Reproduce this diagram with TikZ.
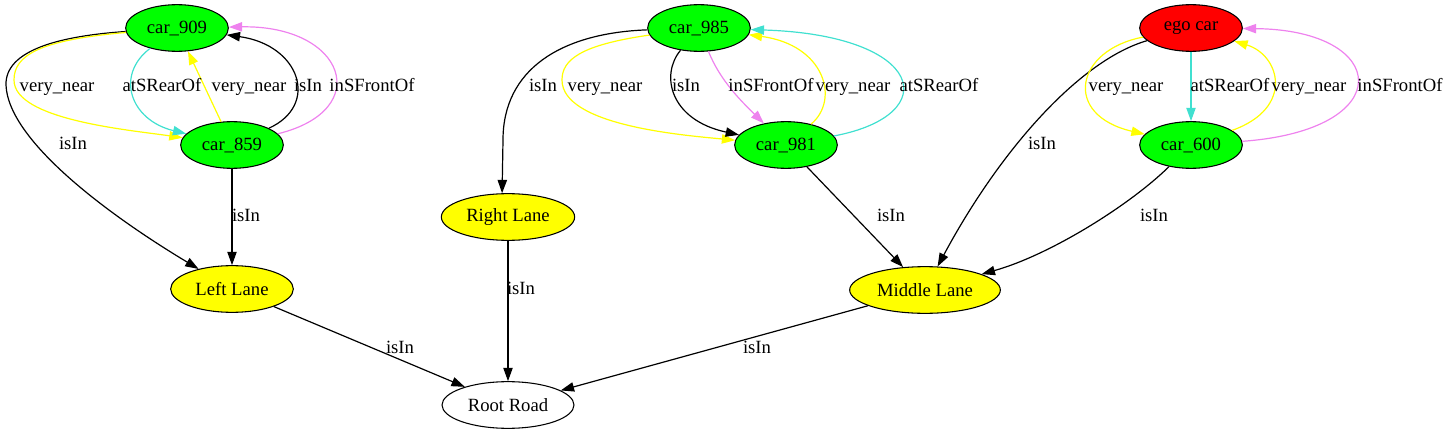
\documentclass[tikz,border=0pt]{standalone}
\usepackage{fontspec}
\setmainfont{Liberation Serif}
\usetikzlibrary{arrows.meta,shapes.geometric}
\definecolor{gvgreen}{HTML}{00FF00}
\definecolor{gvyellow}{HTML}{FFFF00}
\definecolor{gvred}{HTML}{FF0000}
\definecolor{gvturq}{HTML}{40E0D0}
\definecolor{gvviolet}{HTML}{EE82EE}
\begin{document}
\begin{tikzpicture}[x=0.75pt,y=-0.75pt,
  nd/.style={ellipse, draw, line width=0.8pt, inner sep=0pt, minimum height=35pt,
    font=\fontsize{14}{16}\selectfont},
  car/.style={nd, fill=gvgreen, minimum width=77pt},
  lane/.style={nd, fill=gvyellow},
  lbl/.style={inner sep=0pt, anchor=base, font=\fontsize{14}{16}\selectfont},
  conn/.style={line width=0.9pt, -{Triangle[length=10pt,width=7pt]}},
  blk/.style={conn, black},
  yel/.style={conn, gvyellow},
  tur/.style={conn, gvturq},
  vio/.style={conn, gvviolet}]
\useasboundingbox (0,0) rectangle (1447,435);

% nodes
\node[car] (car909) at (177,28) {car\_909};
\node[car] (car859) at (232,145) {car\_859};
\node[car] (car985) at (699,28) {car\_985};
\node[car] (car981) at (786,145) {car\_981};
\node[car, fill=gvred] (ego) at (1191,28) {ego car};
\node[car] (car600) at (1191,145) {car\_600};
\node[lane, minimum width=100pt] (rightlane) at (508,217) {Right Lane};
\node[lane, minimum width=92pt] (leftlane) at (232,289) {Left Lane};
\node[lane, minimum width=113pt] (middlelane) at (925,290) {Middle Lane};
\node[nd, minimum width=99pt] (rootroad) at (508,405) {Root Road};

% cluster 1
\draw[blk] (car909) .. controls (60,36) and (5,50) .. (6,85) .. controls (8,140) and (107,214) .. (leftlane);
\draw[yel] (car909) .. controls (40,40) and (14,55) .. (14,80) .. controls (14,120) and (130,130) .. (car859);
\draw[tur] (car909) .. controls (115,75) and (130,120) .. (car859);
\draw[yel] (car859) -- (car909);
\draw[blk] (car859) .. controls (320,105) and (300,45) .. (car909);
\draw[vio] (car859) .. controls (375,110) and (345,25) .. (car909);
\draw[blk] (car859) -- (leftlane);
\draw[blk] (leftlane) -- (rootroad);

\node[lbl] (l1) at (73,149) {isIn};
\node[lbl] (l2) at (57,92) {very\_near};
\node[lbl] (l3) at (162,92) {atSRearOf};
\node[lbl] (l4) at (249,92) {very\_near};
\node[lbl] (l5) at (308,92) {isIn};
\node[lbl] (l6) at (372,92) {inSFrontOf};
\node[lbl] (l7) at (246,221) {isIn};
\node[lbl] (l8) at (400,353) {isIn};

% cluster 2
\draw[blk] (car985) .. controls (560,33) and (503,70) .. (503,140) -- (rightlane.104);
\draw[yel] (car985) .. controls (580,45) and (562,60) .. (562,80) .. controls (562,125) and (680,135) .. (car981);
\draw[blk] (car985) .. controls (660,75) and (670,120) .. (car981);
\draw[vio] (car985) .. controls (720,80) and (740,100) .. (car981);
\draw[yel] (car981) .. controls (840,100) and (825,45) .. (car985);
\draw[tur] (car981) .. controls (945,115) and (925,35) .. (car985);
\draw[blk] (car981) -- (middlelane);
\draw[blk] (rightlane) -- (rootroad);
\draw[blk] (middlelane) -- (rootroad);

\node[lbl] (l9) at (543,92) {isIn};
\node[lbl] (l10) at (605,92) {very\_near};
\node[lbl] (l11) at (686,92) {isIn};
\node[lbl] (l12) at (771,92) {inSFrontOf};
\node[lbl] (l13) at (853,92) {very\_near};
\node[lbl] (l14) at (939,92) {atSRearOf};
\node[lbl] (l15) at (891,221) {isIn};
\node[lbl] (l16) at (521,294) {isIn};
\node[lbl] (l17) at (757,353) {isIn};

% cluster 3
\draw[blk] (ego) .. controls (1080,60) and (1000,150) .. (middlelane);
\draw[yel] (ego) .. controls (1075,50) and (1062,115) .. (car600);
\draw[tur] (ego) -- (car600);
\draw[yel] (car600) .. controls (1295,108) and (1280,55) .. (ego);
\draw[vio] (car600) .. controls (1400,130) and (1390,30) .. (ego);
\draw[blk] (car600) .. controls (1130,205) and (1050,255) .. (middlelane);

\node[lbl] (l18) at (1042,149) {isIn};
\node[lbl] (l19) at (1126,92) {very\_near};
\node[lbl] (l20) at (1230,92) {atSRearOf};
\node[lbl] (l21) at (1309,92) {very\_near};
\node[lbl] (l22) at (1400,92) {inSFrontOf};
\node[lbl] (l23) at (1154,221) {isIn};
\end{tikzpicture}
\end{document}
